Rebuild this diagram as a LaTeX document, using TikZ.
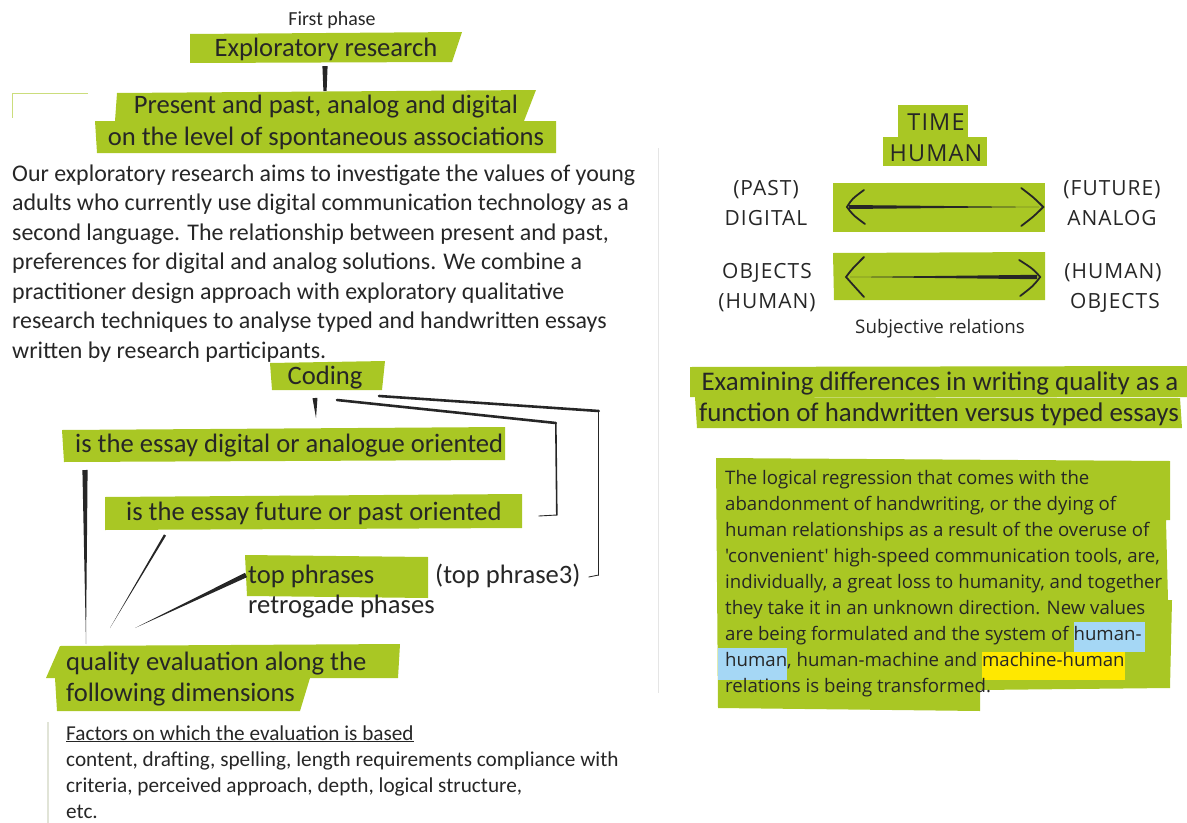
\documentclass[tikz,border=0pt]{standalone}
\usepackage{fontspec}
\setmainfont{Carlito}
\newfontfamily\os{Open Sans}
\newfontfamily\osls{Open Sans}[LetterSpace=5]
\usetikzlibrary{calc}
\definecolor{lime}{RGB}{169,199,36}
\definecolor{ink}{RGB}{38,38,38}
\definecolor{hlblue}{RGB}{165,215,245}
\definecolor{hlyellow}{RGB}{255,232,0}
\definecolor{paleline}{RGB}{225,228,215}
\newcommand\taper[3]{\fill[ink] ($(#1)!#3!90:(#2)$) -- ($(#1)!#3!-90:(#2)$) -- (#2) -- cycle;}
\newcommand\hlword[5]{\begingroup\setlength\fboxsep{0pt}\colorbox{#1}{\rule[-#2bp]{0pt}{#3bp}#5\hspace*{#4bp}}\endgroup}
\begin{document}
\begin{tikzpicture}[x=1bp,y=-1bp,
  every node/.style={inner sep=0pt, text=ink},
  hd/.style={font=\fontsize{26.7}{30}\selectfont, anchor=base},
  hdl/.style={font=\fontsize{26.7}{30}\selectfont, anchor=base west},
  body/.style={font=\fontsize{24}{28}\selectfont, anchor=base west},
  small/.style={font=\fontsize{21.3}{25}\selectfont, anchor=base west},
  caps/.style={font=\osls\fontsize{21}{24}\selectfont, anchor=base},
  bigcaps/.style={font=\osls\fontsize{23.5}{27}\selectfont, anchor=base},
  rpar/.style={font=\os\fontsize{18.7}{22}\selectfont, anchor=base west},
  link/.style={draw=ink, line width=2.2pt, line cap=round, line join=round},
  gbox/.style={fill=lime}]
\useasboundingbox (0,0) rectangle (1187,823);

% ---------- green highlight shapes ----------
\fill[gbox] (190,34) -- (462,32) -- (452,62) -- (190,63) -- cycle;
\fill[gbox] (117,93) -- (536,90) -- (524,121) -- (115,121) -- cycle;
\fill[gbox] (95,121) -- (556,121) -- (556,153) -- (97,153) -- cycle;
\draw[lime!60, line width=0.8pt] (88,93) -- (12,93) -- (12,118);
\fill[gbox] (270,363) -- (385,361) -- (382,390) -- (272,390) -- cycle;
\fill[gbox] (62,430) -- (505,427) -- (505,460) -- (64,462) -- cycle;
\fill[gbox] (105,497) -- (522,494) -- (522,528) -- (105,530) -- cycle;
\fill[gbox] (245,555) -- (428,557) -- (428,598) -- (247,596) -- cycle;
\fill[gbox] (60,646) -- (400,644) -- (398,678) -- (46,678) -- cycle;
\fill[gbox] (55,678) -- (310,678) -- (300,711) -- (57,711) -- cycle;
\draw[paleline, line width=1.2pt] (48,722) -- (48,823);
\draw[gray!20, line width=1pt] (658,148) -- (658,693);

\fill[gbox] (898,105) rectangle (968,137);
\fill[gbox] (883,137) rectangle (987,166);
\fill[gbox] (833,183) -- (1045,183) -- (1045,232) -- (833,232) -- cycle;
\fill[gbox] (833,253) -- (1045,252) -- (1045,300) -- (834,300) -- cycle;
\fill[gbox] (690,367) -- (1187,366) -- (1187,397) -- (690,397) -- cycle;
\fill[gbox] (695,397) -- (1180,398) -- (1182,428) -- (697,428) -- cycle;
\fill[gbox] (716,458) -- (1170,461) -- (1170,520) -- (1166,520) -- (1168,600) -- (1172,600) -- (1170,688) -- (980,690) -- (980,711) -- (718,708) -- cycle;

% ---------- left column text ----------
\node[font=\fontsize{20}{24}\selectfont, anchor=base] (phase) at (332,25) {First phase};
\node[hd] (ex) at (326,56) {Exploratory research};
\node[hd] (pres1) at (326,113) {Present and past, analog and digital};
\node[hd] (pres2) at (326,145) {on the level of spontaneous associations};

\node[body] (p1) at (12,181) {Our exploratory research aims to investigate the values of young};
\node[body] (p2) at (12,210.5) {adults who currently use digital communication technology as a};
\node[body] (p3) at (12,240) {second language. The relationship between present and past,};
\node[body] (p4) at (12,269.5) {preferences for digital and analog solutions. We combine a};
\node[body] (p5) at (12,299) {practitioner design approach with exploratory qualitative};
\node[body] (p6) at (12,328.5) {research techniques to analyse typed and handwritten essays};
\node[body] (p7) at (12,358) {written by research participants.};

\node[hd] (coding) at (325,384) {Coding};
\node[hdl] (digital) at (75,452) {is the essay digital or analogue oriented};
\node[hdl] (future) at (126,520) {is the essay future or past oriented};
\node[hdl] (top) at (248,583) {top phrases};
\node[hdl] (top3) at (435,583) {(top phrase3)};
\node[hdl] (retro) at (248,613) {retrogade phases};
\node[hdl] (qual1) at (66,670) {quality evaluation along the};
\node[hdl] (qual2) at (66,701) {following dimensions};

\node[small] (factors) at (66,740) {\underline{Factors on which the evaluation is based}};
\node[small] (f1) at (66,766) {content, drafting, spelling, length requirements compliance with};
\node[small] (f2) at (66,792) {criteria, perceived approach, depth, logical structure,};
\node[small] (f3) at (66,818) {etc.};

% ---------- left connectors ----------
\coordinate (exb) at ($(ex.base)+(-1,10)$);
\coordinate (prt) at ($(pres1.base)+(-1,-22)$);
\fill[ink] ($(exb)+(-2.6,0)$) -- ($(exb)+(2.6,0)$) -- ($(prt)+(1.6,0)$) -- ($(prt)+(-1.6,0)$) -- cycle;
\coordinate (cod1) at ($(coding.base)+(-10,14)$);
\coordinate (dig1) at ($(coding.base)+(-9,34)$);
\taper{cod1}{dig1}{2.5bp}
\coordinate (cf0) at ($(coding.base)+(12,16)$);
\coordinate (cf1) at ($(future.base east)+(54,-97)$);
\coordinate (cf2) at ($(future.base east)+(55,-5)$);
\coordinate (cf3) at ($(future.base east)+(37,-4)$);
\draw[link, line width=2.6pt] (cf0) -- (cf1);
\draw[link, line width=1.6pt] (cf1) -- (cf2);
\draw[link, line width=0.9pt] (cf2) -- (cf3);
\coordinate (ct0) at ($(coding.base)+(54,12)$);
\coordinate (ct1) at ($(top3.base east)+(18,-172)$);
\coordinate (ct2) at ($(top3.base east)+(18,-8)$);
\coordinate (ct3) at ($(top3.base east)+(8,-6)$);
\draw[link, line width=2.6pt] (ct0) -- (ct1);
\draw[link, line width=1.4pt] (ct1) -- (ct2);
\draw[link, line width=0.8pt] (ct2) -- (ct3);

\coordinate (dq0) at ($(digital.base west)+(10,18)$);
\coordinate (dq1) at ($(qual1.base west)+(20,-26)$);
\taper{dq0}{dq1}{2.6bp}
\coordinate (fq0) at ($(future.base west)+(39,15)$);
\coordinate (fq1) at ($(qual1.base west)+(44,-42)$);
\taper{fq0}{fq1}{1.2bp}
\coordinate (tq0) at ($(top.base west)+(-2,-8)$);
\coordinate (tq1) at ($(qual1.base west)+(69,-42)$);
\taper{tq0}{tq1}{2.4bp}

% ---------- right column ----------
\node[bigcaps] (time) at (936,130) {TIME};
\node[bigcaps] (human) at (936,161) {HUMAN};
\node[caps] (past) at (766,195) {(PAST)};
\node[caps] (dig) at (766,225) {DIGITAL};
\node[caps] (fut) at (1112,195) {(FUTURE)};
\node[caps] (ana) at (1112,225) {ANALOG};
\node[caps] (obj1) at (767,278) {OBJECTS};
\node[caps] (hum1) at (767,308) {(HUMAN)};
\node[caps] (hum2) at (1113,278) {(HUMAN)};
\node[caps] (obj2) at (1115,308) {OBJECTS};
\node[font=\os\fontsize{18.8}{22}\selectfont, anchor=base] (subj) at (940,333) {Subjective relations};

% arrow 1 (PAST <-> FUTURE)
\coordinate (a1l) at ($(past.base east)+(50,12)$);
\coordinate (a1r) at ($(fut.base west)+(-24,12)$);
\fill[ink] ($(a1l)+(0,-2)$) -- ($(a1l)+(0,2)$) -- (a1r) -- cycle;
\draw[ink, line width=1.8pt, line cap=round] ($(a1l)+(15,-17)$) .. controls ($(a1l)+(3,-8)$) .. ($(a1l)+(-2,0)$) .. controls ($(a1l)+(4,8)$) .. ($(a1l)+(16,17)$);
\draw[ink, line width=1.8pt, line cap=round] ($(a1r)+(-18,-19)$) .. controls ($(a1r)+(-5,-9)$) .. ($(a1r)+(4,0)$) .. controls ($(a1r)+(-5,9)$) .. ($(a1r)+(-18,19)$);
% arrow 2 (OBJECTS <-> HUMAN)
\coordinate (a2l) at ($(obj1.base east)+(38,-1)$);
\coordinate (a2r) at ($(hum2.base west)+(-27,-1)$);
\fill[ink] ($(a2r)+(0,-2.2)$) -- ($(a2r)+(0,2.2)$) -- (a2l) -- cycle;
\draw[ink, line width=1.8pt, line cap=round] ($(a2l)+(14,-20)$) .. controls ($(a2l)+(2,-8)$) .. ($(a2l)+(-4,0)$) .. controls ($(a2l)+(4,9)$) .. ($(a2l)+(14,20)$);
\draw[ink, line width=1.8pt, line cap=round] ($(a2r)+(-18,-17)$) .. controls ($(a2r)+(-4,-8)$) .. ($(a2r)+(3,0)$) .. controls ($(a2r)+(-4,9)$) .. ($(a2r)+(-17,19)$);

\node[font=\fontsize{27}{31}\selectfont, anchor=base] (exam1) at (940,390) {Examining differences in writing quality as a};
\node[font=\fontsize{27}{31}\selectfont, anchor=base] (exam2) at (939,421) {function of handwritten versus typed essays};

\node[rpar] (r1) at (725,484) {The logical regression that comes with the};
\node[rpar] (r2) at (725,510) {abandonment of handwriting, or the dying of};
\node[rpar] (r3) at (725,536) {human relationships as a result of the overuse of};
\node[rpar] (r4) at (725,562) {'convenient' high-speed communication tools, are,};
\node[rpar] (r5) at (725,588) {individually, a great loss to humanity, and together};
\node[rpar] (r6) at (725,614) {they take it in an unknown direction. New values};
\node[rpar] (r7) at (725,640) {are being formulated and the system of \hlword{hlblue}{12}{30}{3}{human-}};
\node[rpar] (r8) at (725,666) {\llap{\hlword{hlblue}{14}{32}{0}{\hspace*{7bp}}}\hlword{hlblue}{14}{32}{0}{human}, human-machine and \hlword{hlyellow}{14}{27}{0}{machine-human}};
\node[rpar] (r9) at (725,692) {relations is being transformed.};
\end{tikzpicture}
\end{document}
